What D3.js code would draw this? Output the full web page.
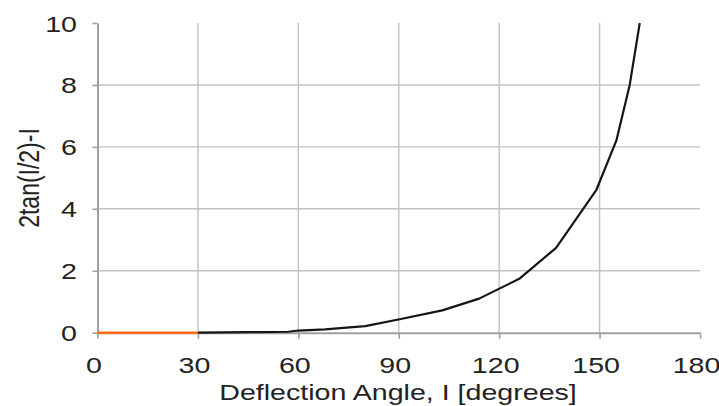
<!DOCTYPE html>
<html>
<head>
<meta charset="utf-8">
<script src="https://cdn.jsdelivr.net/npm/d3@7"></script>
<style>
  body { margin: 0; background: #fff; }
  text { font-family: "Liberation Sans", Arial, sans-serif; fill: #222; }
</style>
</head>
<body>
<div class="chart"></div>
<script>
// values
const startAngle = [0, 30];
const startValue = [0, 0];
const angle = [30, 45, 57, 60, 68, 80, 91, 103, 114, 126, 137, 149, 155, 159, 162];
const value = [0, 0.02, 0.03, 0.07, 0.11, 0.21, 0.45, 0.72, 1.1, 1.74, 2.74, 4.6, 6.2, 8.0, 10];
const xTicks = [0, 30, 60, 90, 120, 150, 180];
const yTicks = [0, 2, 4, 6, 8, 10];

const width = 719;
const height = 406;
const stretch = 1.3; // the picture is stretched sideways

const x = d3.scaleLinear().domain([0, 180]).range([97.5, 700]);
const y = d3.scaleLinear().domain([0, 10]).range([332.7, 23]);

const svg = d3
  .select(".chart")
  .append("svg")
  .attr("width", width)
  .attr("height", height);

svg.append("rect").attr("width", width).attr("height", height).attr("fill", "#fff");

// grid
svg
  .append("g")
  .selectAll("line")
  .data(xTicks.filter((d) => d > 0 && d < 180))
  .join("line")
  .attr("x1", (d) => x(d))
  .attr("x2", (d) => x(d))
  .attr("y1", y(10))
  .attr("y2", y(0))
  .attr("stroke", "#c2c2c2")
  .attr("stroke-width", 1.4);

svg
  .append("g")
  .selectAll("line")
  .data(yTicks.filter((d) => d > 0 && d < 10))
  .join("line")
  .attr("x1", x(0))
  .attr("x2", x(180))
  .attr("y1", (d) => y(d))
  .attr("y2", (d) => y(d))
  .attr("stroke", "#c2c2c2")
  .attr("stroke-width", 1.4);

// axes
const xAxis = svg
  .append("g")
  .attr("transform", `translate(0,${y(0)})`)
  .call(d3.axisBottom(x).tickValues(xTicks).tickSize(6).tickSizeOuter(0));

const yAxis = svg
  .append("g")
  .attr("transform", `translate(${x(0)},0)`)
  .call(d3.axisLeft(y).tickValues(yTicks).tickSize(5).tickSizeOuter(0));

[xAxis, yAxis].forEach((a) => {
  a.select(".domain").attr("stroke", "#a0a0a0").attr("stroke-width", 2);
  a.selectAll(".tick line").attr("stroke", "#a0a0a0").attr("stroke-width", 1.6);
  a.selectAll("text").attr("font-size", 22).attr("fill", "#222");
});

xAxis
  .selectAll("text")
  .attr("y", 40)
  .attr("dy", 0)
  .attr("x", -4 / stretch)
  .attr("transform", `scale(${stretch},1)`);

yAxis
  .selectAll("text")
  .attr("x", -20.5 / stretch)
  .attr("y", 8)
  .attr("dy", 0)
  .attr("transform", `scale(${stretch},1)`);

// lines
const line = d3
  .line()
  .x((d) => x(d[0]))
  .y((d) => y(d[1]));

svg
  .append("path")
  .datum(angle.map((a, i) => [a, value[i]]))
  .attr("fill", "none")
  .attr("stroke", "#151515")
  .attr("stroke-width", 2.2)
  .attr("stroke-linejoin", "round")
  .attr("d", line);

svg
  .append("path")
  .datum(startAngle.map((a, i) => [a, startValue[i]]))
  .attr("fill", "none")
  .attr("stroke", "#ff6a10")
  .attr("stroke-width", 2.6)
  .attr("d", line);

// titles
svg
  .append("text")
  .attr("transform", `translate(398,400) scale(${stretch},1)`)
  .attr("text-anchor", "middle")
  .attr("font-size", 22)
  .text("Deflection Angle, I [degrees]");

svg
  .append("text")
  .attr("transform", `translate(28,178) scale(${stretch},1) rotate(-90)`)
  .attr("text-anchor", "middle")
  .attr("dy", "0.36em")
  .attr("font-size", 23)
  .text("2tan(I/2)-I");
</script>
</body>
</html>
